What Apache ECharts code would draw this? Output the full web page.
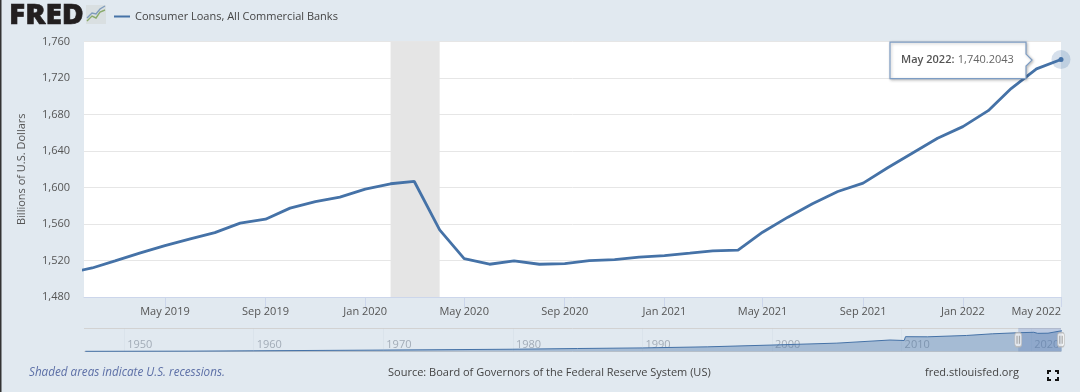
<!DOCTYPE html>
<html>
<head>
<meta charset="utf-8">
<style>html,body{margin:0;padding:0;background:#e1e9f0;overflow:hidden}#c{width:1080px;height:392px}</style>
<script src="https://cdn.jsdelivr.net/npm/echarts@6/dist/echarts.min.js"></script>
</head>
<body>
<div id="c"></div>
<script>
const seriesName = 'Consumer Loans, All Commercial Banks';
const months = ['2019-01','2019-02','2019-03','2019-04','2019-05','2019-06','2019-07','2019-08','2019-09','2019-10','2019-11','2019-12',
 '2020-01','2020-02','2020-03','2020-04','2020-05','2020-06','2020-07','2020-08','2020-09','2020-10','2020-11','2020-12',
 '2021-01','2021-02','2021-03','2021-04','2021-05','2021-06','2021-07','2021-08','2021-09','2021-10','2021-11','2021-12',
 '2022-01','2022-02','2022-03','2022-04','2022-05'];
const values = [1505.9,1511.8,1519.5,1528.3,1536.4,1543.7,1550.6,1560.9,1565.3,1577.4,1584.6,1589.5,
 1598.3,1604.1,1606.6,1553.6,1522.1,1515.9,1519.5,1515.9,1516.6,1519.9,1521.0,1523.6,
 1525.3,1528.0,1530.5,1531.3,1551.0,1567.5,1582.1,1595.6,1604.8,1621.6,1638.1,1654.0,
 1666.7,1684.2,1708.4,1730.0,1740.2043];
const tickMonths = ['2019-05','2019-09','2020-01','2020-05','2020-09','2021-01','2021-05','2021-09','2022-01','2022-05'];
const tickLabels = ['May 2019','Sep 2019','Jan 2020','May 2020','Sep 2020','Jan 2021','May 2021','Sep 2021','Jan 2022','May 2022'];
const recession = ['2020-02','2020-04'];
const viewStart = '2019-01-22';
const navYears = [1947,1955,1960,1970,1980,1985,1990,1995,2000,2005,2009.1,2010.2,2010.3,2012,2015,2017,2019,2020.2,2020.5,2021.3,2022.37];
const navValues = [15,30,60,120,190,250,300,390,540,700,960,920,1240,1230,1340,1480,1570,1606,1520,1531,1740];
const navDecades = [1950,1960,1970,1980,1990,2000,2010,2020];
const navSelection = [2019,2022.3];
const blue = '#4572a7';
const ms = s => { const p = s.split('-').map(Number); return Date.UTC(p[0], p[1]-1, p[2]||1); };
const tickMs = tickMonths.map(ms);
const font = '"Open Sans","Noto Sans",sans-serif';

const chart = echarts.init(document.getElementById('c'), null, {renderer:'canvas'});
chart.setOption({
  animation:false,
  backgroundColor:'#e1e9f0',
  legend:{left:109,top:6,data:[seriesName],icon:'rect',itemWidth:16,itemHeight:2,itemGap:5,selectedMode:false,
    textStyle:{fontFamily:font,fontSize:11,color:'#444'}},
  grid:[
    {left:84,right:19,top:41.5,height:255.5,backgroundColor:'#fff',show:true,borderWidth:0},
    {left:84,right:19,top:328,height:23.5,show:false}
  ],
  xAxis:[
    {type:'value',gridIndex:0,min:ms(viewStart),max:ms('2022-05'),scale:true,
      axisLine:{lineStyle:{color:'#ccd6eb'}},
      axisTick:{show:true,length:10,customValues:tickMs,lineStyle:{color:'#ccd6eb'}},
      splitLine:{show:false},
      axisLabel:{customValues:tickMs,margin:9,fontFamily:font,fontSize:11,color:'#555',alignMaxLabel:'right',hideOverlap:false,
        formatter:v=>tickLabels[tickMs.indexOf(v)]||''}},
    {type:'value',gridIndex:1,min:1946.9,max:2022.3,
      axisLine:{show:false},
      axisTick:{show:true,inside:true,length:23,customValues:navDecades,lineStyle:{color:'rgba(200,210,220,0.25)'}},
      splitLine:{show:false},
      axisLabel:{inside:true,customValues:navDecades,margin:1,align:'left',padding:[0,0,0,3],fontFamily:font,fontSize:11,color:'rgba(110,120,135,0.55)',
        formatter:v=>String(v)}}
  ],
  yAxis:[
    {type:'value',gridIndex:0,min:1480,max:1760,interval:40,
      name:'Billions of U.S. Dollars',nameLocation:'middle',nameGap:57,nameTextStyle:{fontFamily:font,fontSize:11,color:'#555'},
      axisLine:{show:false},axisTick:{show:false},
      splitLine:{lineStyle:{color:'#e6e6e6'}},
      axisLabel:{margin:14,padding:[2,0,0,0],fontFamily:font,fontSize:11,color:'#555',formatter:v=>v.toLocaleString('en-US')}},
    {type:'value',gridIndex:1,min:0,max:1966,interval:1966,
      axisLine:{show:false},axisTick:{show:false},axisLabel:{show:false},
      splitLine:{lineStyle:{color:'#d2d2d2'}}}
  ],
  series:[
    {name:seriesName,type:'line',xAxisIndex:0,yAxisIndex:0,clip:true,symbol:'none',z:5,
      data:months.map((m,i)=>[ms(m),values[i]]),
      lineStyle:{color:blue,width:2.8},itemStyle:{color:blue},
      markArea:{silent:true,itemStyle:{color:'#e5e5e5'},data:[[{xAxis:ms(recession[0])},{xAxis:ms(recession[1])}]]},
      markPoint:{silent:true,symbol:'circle',animation:false,label:{show:false},
        data:[
          {coord:[ms(months[months.length-1]),values[values.length-1]],symbolSize:19,itemStyle:{color:'rgba(69,114,167,0.22)'}},
          {coord:[ms(months[months.length-1]),values[values.length-1]],symbolSize:5,itemStyle:{color:blue}}
        ]}
    },
    {name:'nav',type:'line',xAxisIndex:1,yAxisIndex:1,symbol:'none',z:3,
      data:navYears.map((y,i)=>[y,navValues[i]]),
      lineStyle:{color:blue,width:1},areaStyle:{color:'rgba(69,114,167,0.55)'},
      markArea:{silent:true,itemStyle:{color:'rgba(102,133,194,0.3)'},data:[[{xAxis:navSelection[0],yAxis:0},{xAxis:navSelection[1],yAxis:1966}]]}
    },
    {name:'handles',type:'scatter',xAxisIndex:1,yAxisIndex:1,clip:false,z:8,silent:true,
      data:navSelection.map(x=>[x,983]),symbol:'roundRect',symbolSize:[7,14],
      itemStyle:{color:'#f5f5f5',borderColor:'#b5b5b5',borderWidth:1}},
    {name:'gripA',type:'scatter',xAxisIndex:1,yAxisIndex:1,clip:false,z:9,silent:true,
      data:navSelection.map(x=>[x,983]),symbol:'rect',symbolSize:[1.2,8],symbolOffset:[-1.2,0],itemStyle:{color:'#999'}},
    {name:'gripB',type:'scatter',xAxisIndex:1,yAxisIndex:1,clip:false,z:9,silent:true,
      data:navSelection.map(x=>[x,983]),symbol:'rect',symbolSize:[1.2,8],symbolOffset:[1.2,0],itemStyle:{color:'#999'}}
  ]
});

const lastIdx = values.length-1;
const pt = chart.convertToPixel({xAxisIndex:0,yAxisIndex:0},[ms(months[lastIdx]),values[lastIdx]]);
const L=pt[0]-171,R=pt[0]-35,T=pt[1]-17.5,B=pt[1]+19,tx=pt[0]-29,ty=pt[1]+0.5;
const tooltipValue = values[lastIdx].toLocaleString('en-US',{minimumFractionDigits:4});
const corner = (pts)=>({type:'polyline',shape:{points:pts},style:{stroke:'#111',lineWidth:2,fill:null}});
chart.setOption({graphic:[
  {type:'rect',shape:{x:0,y:0,width:1.5,height:392},style:{fill:'#333'},z:50},
  {type:'text',x:9,y:2.5,scaleX:1.07,z:50,style:{text:'FRED',fontFamily:'"Open Sans",sans-serif',fontWeight:800,fontSize:28,fill:'#231f20',stroke:'#231f20',lineWidth:0.6}},
  {type:'rect',shape:{x:86,y:5,width:20,height:19},style:{fill:'#d9dfe1'},z:50},
  {type:'polyline',shape:{points:[[87,21],[92,16],[96,18],[100,12],[105,10]]},style:{stroke:'#8aab6c',lineWidth:1.4,fill:null},z:51},
  {type:'polyline',shape:{points:[[87,18],[92,13],[96,14],[100,9],[105,6]]},style:{stroke:'#7f9cbc',lineWidth:1.4,fill:null},z:51},
  {type:'polygon',z:60,shape:{points:[[L,T],[R,T],[R,ty-6],[tx,ty],[R,ty+6],[R,B],[L,B]]},
    style:{fill:'#fff',stroke:'#7c9cc4',lineWidth:1.2,shadowBlur:3,shadowColor:'rgba(0,0,0,0.25)',shadowOffsetX:1,shadowOffsetY:1}},
  {type:'text',z:61,x:L+11,y:pt[1]+0.5,style:{
    text:'{b|'+tickLabels[tickLabels.length-1]+':} {v|'+tooltipValue+'}',verticalAlign:'middle',
    rich:{b:{fontFamily:font,fontSize:11,fontWeight:600,fill:'#555',color:'#555'},v:{fontFamily:font,fontSize:11,fill:'#666',color:'#666'}}}},
  {type:'text',x:29,y:373,z:50,style:{text:'Shaded areas indicate U.S. recessions.',verticalAlign:'middle',fontFamily:font,fontStyle:'italic',fontSize:11.7,fill:'#5c6fa6'}},
  {type:'text',x:388,y:373,z:50,style:{text:'Source: Board of Governors of the Federal Reserve System (US)',verticalAlign:'middle',fontFamily:font,fontSize:11,fill:'#444'}},
  {type:'text',x:925,y:373,z:50,style:{text:'fred.stlouisfed.org',verticalAlign:'middle',fontFamily:font,fontSize:11,fill:'#444'}},
  Object.assign(corner([[1048,374],[1048,371],[1051,371]]),{z:50}),
  Object.assign(corner([[1055,371],[1058,371],[1058,374]]),{z:50}),
  Object.assign(corner([[1048,377],[1048,380],[1051,380]]),{z:50}),
  Object.assign(corner([[1055,380],[1058,380],[1058,377]]),{z:50})
]});
</script>
</body>
</html>
